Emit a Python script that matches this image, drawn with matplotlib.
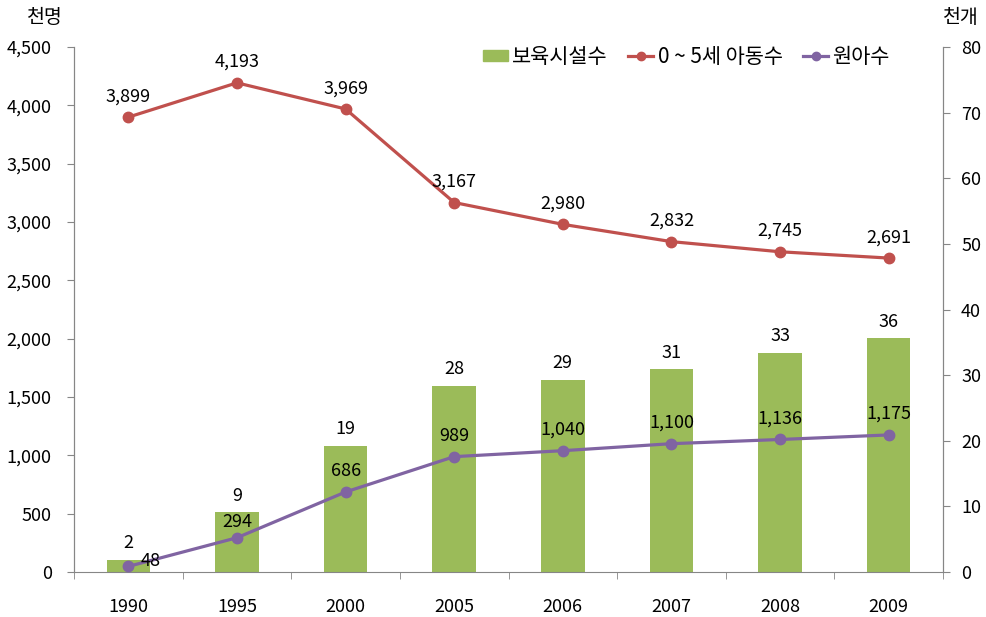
import matplotlib
matplotlib.use("Agg")
import matplotlib.pyplot as plt
from matplotlib.lines import Line2D
from matplotlib.patches import Patch

plt.rcParams['font.family'] = ['Noto Sans CJK KR', 'DejaVu Sans']

years = ['1990', '1995', '2000', '2005', '2006', '2007', '2008', '2009']
facilities = [1.9, 9.1, 19.2, 28.4, 29.3, 30.9, 33.4, 35.6]   # 천개 (right axis)
children = [3899, 4193, 3969, 3167, 2980, 2832, 2745, 2691]     # 천명 (left axis)
enrolled = [48, 294, 686, 989, 1040, 1100, 1136, 1175]          # 천명 (left axis)

c_bar = '#9BBB59'
c_red = '#C0504D'
c_pur = '#8064A2'
c_axis = '#868686'
FS = 13

fig = plt.figure(figsize=(9.87, 6.17), dpi=100)
ax = fig.add_axes([0.075, 0.0729, 0.8804, 0.8509])
ax2 = ax.twinx()

x = list(range(len(years)))

# bars on right axis
ax2.bar(x, facilities, width=0.4, color=c_bar, zorder=1)
ax2.set_ylim(0, 80)
ax2.set_yticks(range(0, 81, 10))

ax.set_zorder(ax2.get_zorder() + 1)
ax.patch.set_visible(False)

ax.plot(x, children, color=c_red, lw=2.3, marker='o', ms=7.5, zorder=3)
ax.plot(x, enrolled, color=c_pur, lw=2.3, marker='o', ms=7.5, zorder=3)
ax.set_ylim(0, 4500)
ax.set_yticks(range(0, 4501, 500))
ax.set_yticklabels([f'{v:,}' for v in range(0, 4501, 500)])
ax.set_xlim(-0.5, len(years) - 0.5)
ax.set_xticks(x)
ax.set_xticklabels(years)
ax.set_xticks([i + 0.5 for i in range(-1, len(years))], minor=True)
ax.tick_params(axis='x', which='major', length=0, pad=19, labelsize=FS)
ax.tick_params(axis='x', which='minor', length=5, color=c_axis, direction='out')
ax.tick_params(axis='y', length=5, color=c_axis, labelsize=FS, pad=11)
ax2.tick_params(axis='y', length=5, color=c_axis, labelsize=FS, pad=8)

for a in (ax, ax2):
    a.spines['top'].set_visible(False)
    for s in ('left', 'right', 'bottom'):
        a.spines[s].set_color(c_axis)
ax2.spines['bottom'].set_visible(False)

for xi, v in zip(x, children):
    ax.annotate(f'{v:,}', (xi, v), xytext=(0, 15), textcoords='offset points',
                ha='center', va='center', fontsize=FS)
for i, (xi, v) in enumerate(zip(x, enrolled)):
    if i == 0:
        ax.annotate(f'{v:,}', (xi, v), xytext=(16, 4), textcoords='offset points',
                    ha='center', va='center', fontsize=FS)
    else:
        off = 11 if i == 1 else 15
        ax.annotate(f'{v:,}', (xi, v), xytext=(0, off), textcoords='offset points',
                    ha='center', va='center', fontsize=FS)
for xi, v in zip(x, facilities):
    ax2.annotate(f'{round(v)}', (xi, v), xytext=(0, 12), textcoords='offset points',
                 ha='center', va='center', fontsize=FS)

fig.text(0.027, 0.972, '천명', fontsize=14, ha='left', va='center')
fig.text(0.955, 0.972, '천개', fontsize=14, ha='left', va='center')

handles = [Patch(color=c_bar),
           Line2D([], [], color=c_red, lw=2.3, marker='o', ms=6),
           Line2D([], [], color=c_pur, lw=2.3, marker='o', ms=6)]
labels = ['보육시설수', '0 ~ 5세 아동수', '원아수']
ax.legend(handles, labels, loc='center right', bbox_to_anchor=(0.951, 0.981), ncol=3,
          frameon=False, fontsize=15, handlelength=1.2, handleheight=0.45,
          handletextpad=0.2, columnspacing=1.0, borderpad=0)

fig.savefig('out.png', dpi=100)
